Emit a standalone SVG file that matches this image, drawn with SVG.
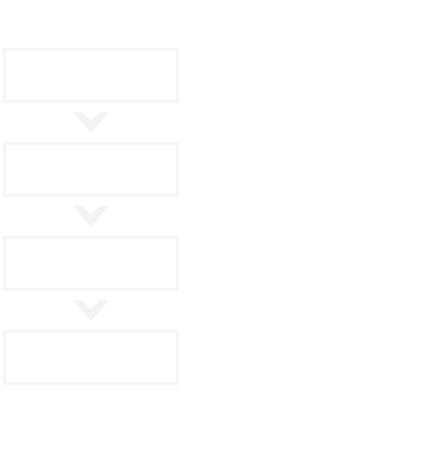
<svg xmlns="http://www.w3.org/2000/svg" width="436" height="460" viewBox="0 0 436 460">
<style>
.box{fill:#ffffff;stroke:#f5f5f5;stroke-width:3}
.chev{fill:#f3f3f3}
</style>
<defs>
<polygon id="chevron" class="chev" points="-18,0 -9,0 0,9 9,0 18,0 0,21"/>
</defs>
<rect width="436" height="460" fill="#ffffff"/>
<g id="node1"><rect class="box" x="4.5" y="49.5" width="173" height="52"/></g>
<g id="node2"><rect class="box" x="4.5" y="143.5" width="173" height="52"/></g>
<g id="node3"><rect class="box" x="4.5" y="237.5" width="173" height="52"/></g>
<g id="node4"><rect class="box" x="4.5" y="331.5" width="173" height="52"/></g>
<g id="connectors">
<use href="#chevron" x="91" y="112"/>
<use href="#chevron" x="91" y="206"/>
<use href="#chevron" x="91" y="300"/>
</g>
</svg>
